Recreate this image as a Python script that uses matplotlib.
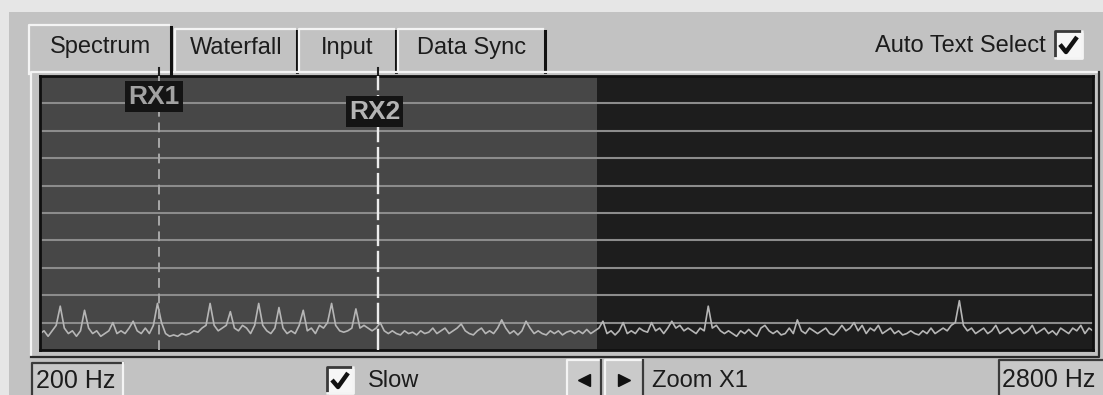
import numpy as np
import matplotlib
matplotlib.use('Agg')
import matplotlib.pyplot as plt
from matplotlib.patches import Rectangle

plt.rcParams['font.family'] = ['Liberation Sans', 'DejaVu Sans']

# spectrum trace, one value every 10 Hz from 200 Hz to 2800 Hz (0..100 scale)
f_start, f_stop, f_step = 200, 2800, 10
level = [
    6, 7, 5, 7, 9, 16, 8, 6, 7, 5, 7, 14.5, 8, 6, 7, 5, 6, 7, 10, 6,            # 200
    7, 6, 8, 10.5, 7, 6, 8, 6, 9, 17, 10, 6, 5, 5.5, 5, 6, 5.5, 6, 7, 6.5,     # 400
    8, 9, 17, 9, 7, 8, 9, 14, 8, 7, 9, 8, 6, 9, 17, 9, 7, 6, 8, 15.5,          # 600
    8, 6, 7, 6, 9, 14.5, 7, 8, 6, 9, 8, 10, 17, 9, 7, 6.5, 7, 8, 15, 8,        # 800
    9, 8, 7, 8, 10, 7, 6, 7, 6, 5.5, 7, 6, 6.5, 5.5, 7, 6, 6.5, 8, 6, 7,       # 1000
    8, 6, 7, 8, 9.5, 7, 6, 5.5, 7, 8, 6, 7, 6, 8, 11, 8, 6, 7, 5.5, 7,         # 1200
    10.5, 8, 6, 7, 6, 5.5, 7, 6, 7, 5.5, 6.5, 7, 6, 7, 6, 7.5, 6, 7, 8, 10.5,  # 1400
    6, 7, 5.5, 7, 10, 6, 7, 6, 8, 7, 6.5, 10, 7, 8, 6, 8, 10.5, 8, 9, 7,       # 1600
    8, 7, 6, 8, 7, 16, 8, 9, 7, 6, 7, 6, 5, 7, 6, 7.5, 6, 5, 8, 9,             # 1800
    7, 6, 7, 5.5, 6, 8, 6, 11, 7, 6, 8, 7, 6, 7, 8, 6, 5.5, 7, 9, 7,           # 2000
    8, 10, 7, 9, 6, 8, 7, 9, 6, 7, 8, 6, 7, 5.5, 6, 7, 6, 5.5, 7, 6,           # 2200
    8, 6, 7, 8, 7, 9, 10, 18, 9, 7, 8, 6, 7, 8, 6, 7, 9, 6, 7, 8,              # 2400
    6, 7, 8, 6, 7, 9, 6, 7, 8, 6, 7, 5.5, 8, 7, 6, 8, 7, 9, 6, 8,              # 2600
    7,                                                                        # 2800
]
freqs = np.arange(f_start, f_stop + 1, f_step)

rx1_hz = 494
rx2_hz = 1035
passband_end_hz = 1575
grid_levels = [10, 20, 30, 40, 50, 60, 70, 80, 90]

tab_names = ['Spectrum', 'Waterfall', 'Input', 'Data Sync']
tab_spans = [(29, 171), (175, 297), (299, 396), (398, 545)]

W, H = 1103, 395
FACE = '#c2c2c2'
LIGHT = '#f4f4f4'
DARK = '#3a3a3a'
TXT = '#1c1c1c'
FS = 17

fig = plt.figure(figsize=(W / 100, H / 100), dpi=100)
fig.patch.set_facecolor(FACE)

# pixel-space layer for the window chrome
ui = fig.add_axes([0, 0, 1, 1])
ui.set_xlim(0, W)
ui.set_ylim(H, 0)
ui.axis('off')


def bevel(x0, y0, x1, y1, tl, br, fc=None, lw=1.6):
    if fc:
        ui.add_patch(Rectangle((x0, y0), x1 - x0, y1 - y0, fc=fc, ec='none'))
    ui.plot([x0, x0, x1], [y1, y0, y0], color=tl, lw=lw)
    ui.plot([x0, x1, x1], [y1, y1, y0], color=br, lw=lw)


def check(x0, y0, size):
    bevel(x0, y0, x0 + size, y0 + size, DARK, LIGHT, fc='#f6f6f6', lw=2)
    ui.plot([x0 + 5, x0 + 11, x0 + size - 5],
            [y0 + size * 0.5, y0 + size - 6, y0 + 6],
            color='#111111', lw=3.2, solid_capstyle='butt')


# outer light margins
ui.add_patch(Rectangle((0, 0), W, 12, fc='#e6e6e6', ec='none'))
ui.add_patch(Rectangle((0, 0), 9, H, fc='#e6e6e6', ec='none'))

# inactive tabs
for name, (x0, x1) in zip(tab_names[1:], tab_spans[1:]):
    ui.add_patch(Rectangle((x0, 29), x1 - x0, 44, fc=FACE, ec='none'))
    ui.plot([x0, x0, x1 - 2], [72, 29, 29], color=LIGHT, lw=1.6)
    ui.plot([x1, x1], [31, 72], color='#111111', lw=2.2)
    ui.text((x0 + x1) / 2, 48, name, ha='center', va='center',
            fontsize=FS, color=TXT)

# tab page
bevel(31, 72, 1099, 357, LIGHT, '#2a2a2a', fc=FACE)

# active tab
x0, x1 = tab_spans[0]
ui.add_patch(Rectangle((x0, 25), x1 - x0, 50, fc=FACE, ec='none'))
ui.plot([x0, x0, x1 - 2], [74, 25, 25], color=LIGHT, lw=1.6)
ui.plot([x1, x1], [27, 74], color='#111111', lw=2.2)
ui.text((x0 + x1) / 2, 47, tab_names[0], ha='center', va='center',
        fontsize=FS, color=TXT)

# auto text select
ui.text(1046, 46, 'Auto Text Select', ha='right', va='center',
        fontsize=FS, color=TXT)
check(1055, 31, 27)

# bottom bar
bevel(32, 363, 123, 398, DARK, LIGHT, fc='#c8c8c8')
ui.text(36, 381, '200 Hz', ha='left', va='center', fontsize=FS + 1, color=TXT)
check(327, 367, 26)
ui.text(368, 381, 'Slow', ha='left', va='center', fontsize=FS, color=TXT)
bevel(567, 360, 601, 398, LIGHT, DARK, fc='#cacaca')
bevel(605, 360, 643, 398, LIGHT, DARK, fc='#cacaca')
ui.plot(584, 380, marker='<', ms=8, color='#111111')
ui.plot(624, 380, marker='>', ms=8, color='#111111')
ui.text(652, 381, 'Zoom X1', ha='left', va='center', fontsize=FS, color=TXT)
bevel(999, 360, 1106, 398, DARK, LIGHT, fc='#c8c8c8')
ui.text(1002, 380, '2800 Hz', ha='left', va='center', fontsize=FS + 1,
        color=TXT)

# spectrum display
ax = fig.add_axes([40 / W, 1 - 350 / H, 1053 / W, 274 / H])
ax.set_facecolor('#1d1d1d')
ax.axvspan(f_start, passband_end_hz, fc='#474747', lw=0, zorder=0)
for g in grid_levels:
    ax.axhline(g, color='#8c8c8c', lw=1.5, zorder=1)
ax.plot(freqs, level, color='#b6b6b6', lw=1.2, zorder=2)

ax.axvline(rx1_hz, color='#a8a8a8', lw=1.4, ls=(0, (5, 3)), zorder=3)
ax.axvline(rx2_hz, color='#ececec', lw=1.7, ls=(0, (9, 2)), zorder=3)
ax.plot([rx1_hz, rx1_hz], [100, 103], color='#222222', lw=1.5, clip_on=False)
ax.plot([rx2_hz, rx2_hz], [100, 103], color='#222222', lw=1.5, clip_on=False)
ax.text(rx1_hz - 12, 92.5, 'RX1', ha='center', va='center', fontsize=19,
        color='#a2a2a2', fontweight='bold', zorder=4,
        bbox=dict(boxstyle='square,pad=0.12', fc='#141414', ec='none'))
ax.text(rx2_hz - 9, 87, 'RX2', ha='center', va='center', fontsize=19,
        color='#b4b4b4', fontweight='bold', zorder=4,
        bbox=dict(boxstyle='square,pad=0.12', fc='#141414', ec='none'))

ax.set_xlim(f_start, f_stop)
ax.set_ylim(0, 100)
ax.set_xticks([])
ax.set_yticks([])
for s in ax.spines.values():
    s.set_color('#101010')
    s.set_linewidth(2)

fig.savefig('out.png', dpi=100, facecolor=fig.get_facecolor())
